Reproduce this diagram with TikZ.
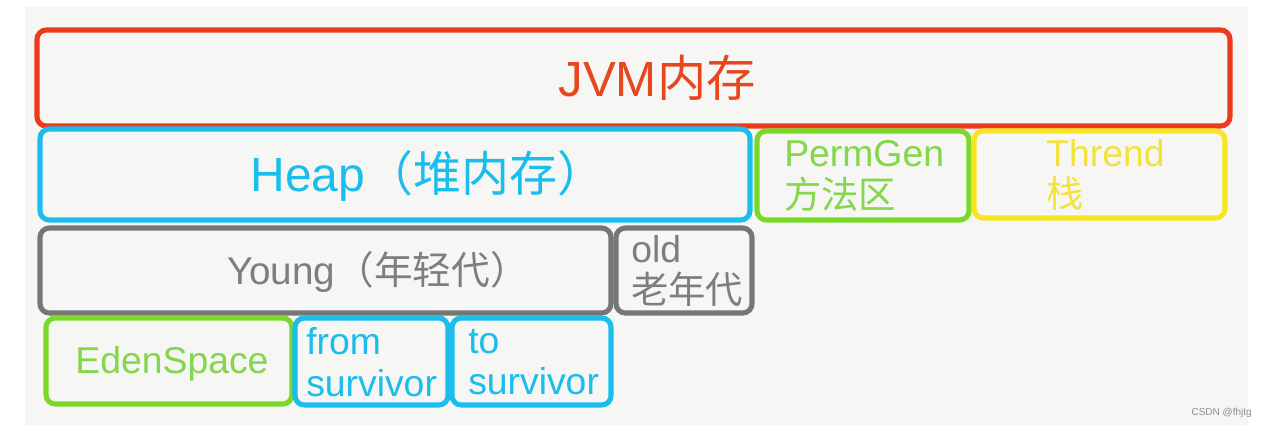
\documentclass[tikz,border=0pt]{standalone}
\usepackage{fontspec}
\setmainfont{Liberation Sans}
\newfontfamily\cjk{Noto Sans CJK SC}
\definecolor{jred}{HTML}{EE3A1A}
\definecolor{jredt}{HTML}{E8461E}
\definecolor{jblue}{HTML}{1ABDEB}
\definecolor{jgreen}{HTML}{7AD928}
\definecolor{jgreent}{HTML}{84D64A}
\definecolor{jyellow}{HTML}{F7E51F}
\definecolor{jyellowt}{HTML}{F2E23C}
\definecolor{jgray}{HTML}{767676}
\definecolor{jgrayt}{HTML}{7E7E7E}
\definecolor{paper}{HTML}{F6F6F4}
\tikzset{
  box/.style={draw, line width=3.8pt, rounded corners=7pt, inner sep=0pt},
  lbl/.style={inner sep=0pt, align=left},
  big/.style={font=\fontsize{37}{42}\selectfont},
  mid/.style={font=\fontsize{28}{31}\selectfont},
}
\newcommand{\bx}[7]{% name, x1,y1,x2,y2, color
  \node[box, draw=#6, minimum width={(#4-#2)*0.75pt}, minimum height={(#5-#3)*0.75pt}] (#1) at ({(#2+#4)/2},{(#3+#5)/2}) {#7};}
\begin{document}
\begin{tikzpicture}[x=0.75pt,y=-0.75pt]
\useasboundingbox (0,0) rectangle (1268,430);
\fill[white] (0,0) rectangle (1268,430);
\fill[paper] (25,7) rectangle (1248,425);
\bx{jvm}{37}{30}{1230}{126}{jred}{}
\bx{heap}{40}{129}{750}{220}{jblue}{}
\bx{perm}{757}{131}{969}{220}{jgreen}{}
\bx{thr}{974}{131}{1225}{218}{jyellow}{}
\bx{young}{40}{228}{611}{313}{jgray}{}
\bx{old}{616}{228}{752}{313}{jgray}{}
\bx{eden}{46}{318}{292}{404}{jgreen}{}
\bx{from}{295}{318}{448}{405}{jblue}{}
\bx{to}{452}{318}{611}{405}{jblue}{}
\node[lbl, text=jredt, big] (tjvm) at (657,78) {JVM{\cjk 内存}};
\node[lbl, text=jblue, font=\fontsize{36}{40}\selectfont] (theap) at (428,176) {Heap{\cjk （堆内存）}};
\node[lbl, text=jgreent, anchor=west, mid] (tperm) at (784,176) {PermGen\\{\cjk 方法区}};
\node[lbl, text=jyellowt, anchor=west, mid] (tthr) at (1046,175) {Thrend\\{\cjk 栈}};
\node[lbl, text=jgrayt, font=\fontsize{29}{32}\selectfont] (tyoung) at (378,272) {Young{\cjk （年轻代）}};
\node[lbl, text=jgrayt, anchor=west, mid] (told) at (631,271) {old\\{\cjk 老年代}};
\node[lbl, text=jgreent, mid] (teden) at (172,364) {EdenSpace};
\node[lbl, text=jblue, anchor=west, mid] (tfrom) at (306,362) {from\\survivor};
\node[lbl, text=jblue, anchor=west, mid] (tto) at (468,362) {to\\survivor};
\node[inner sep=0pt, anchor=east, text=black!45, font=\fontsize{7.5}{9}\selectfont] (wm) at (1252,413) {CSDN @fhjtg};
\end{tikzpicture}
\end{document}
